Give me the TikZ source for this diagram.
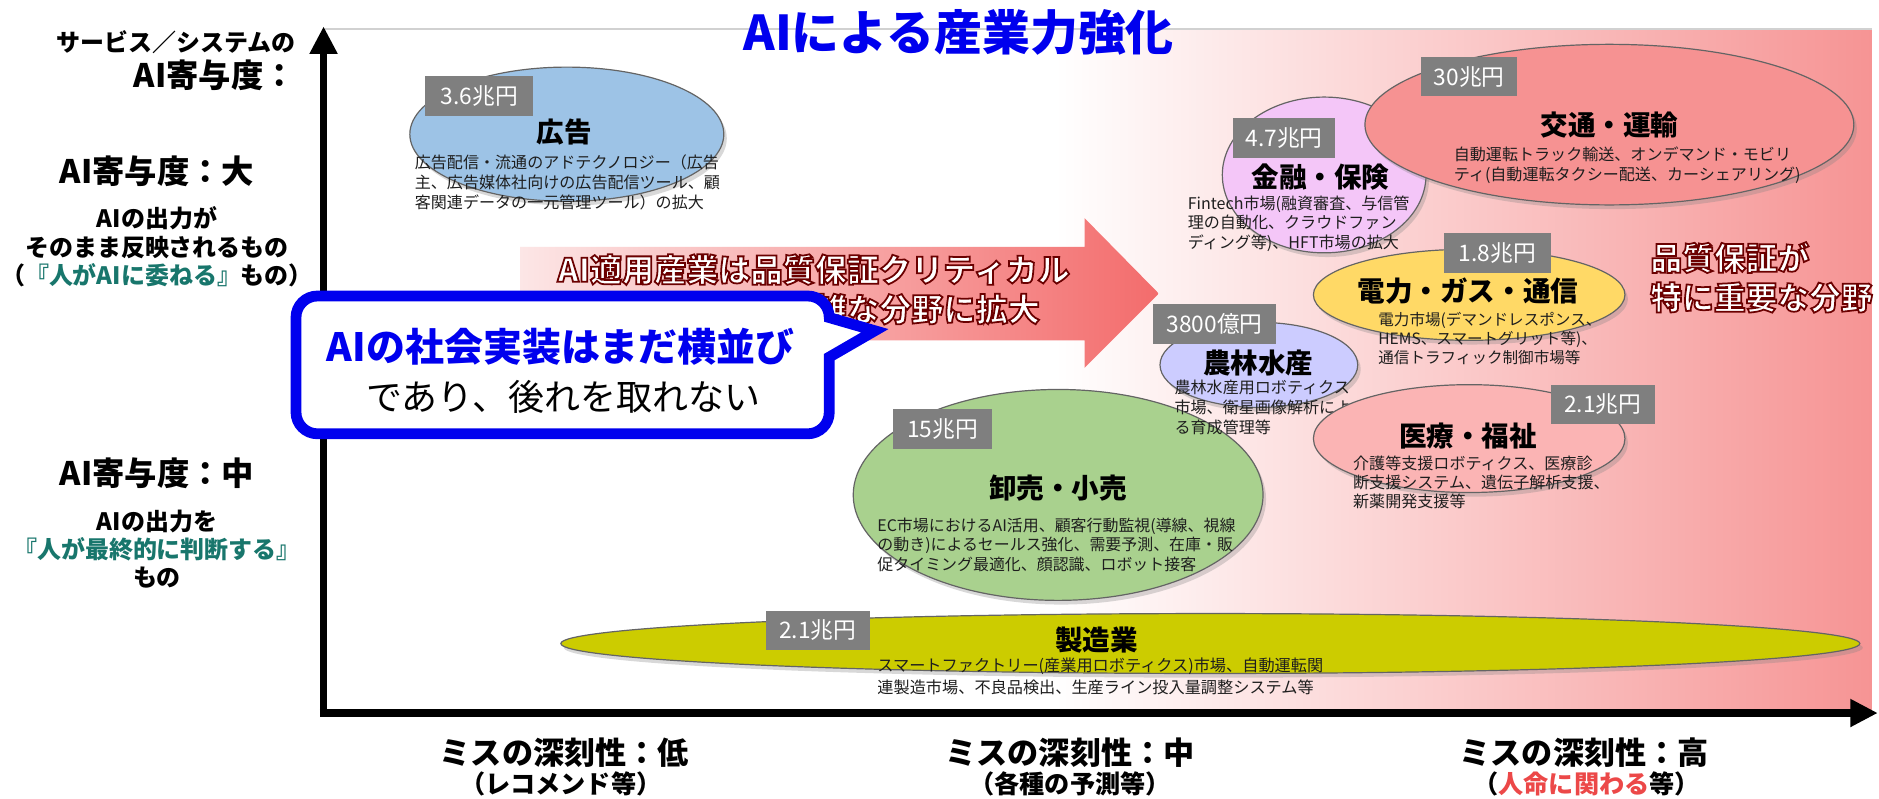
\documentclass[tikz,border=0pt]{standalone}
\usepackage{fontspec}
\setmainfont{Noto Sans CJK JP}
\newfontfamily\outlfont{Noto Sans CJK JP}[FakeBold=5.5]
\usetikzlibrary{shapes.geometric,arrows.meta,shadows}
\definecolor{blueT}{RGB}{0,0,238}
\definecolor{tealT}{RGB}{24,118,108}
\definecolor{redT}{RGB}{236,72,72}
\definecolor{valG}{RGB}{127,127,127}
\definecolor{descC}{RGB}{30,30,30}
\definecolor{edgeC}{RGB}{100,100,100}
\definecolor{bgPink}{RGB}{246,148,148}
\definecolor{arrL}{RGB}{252,230,230}
\definecolor{arrR}{RGB}{243,108,108}
\definecolor{cAd}{RGB}{157,195,230}
\definecolor{cWs}{RGB}{169,209,142}
\definecolor{cMf}{RGB}{204,204,0}
\definecolor{cAg}{RGB}{204,204,255}
\definecolor{cEn}{RGB}{255,217,102}
\definecolor{cFi}{RGB}{244,198,248}
\definecolor{cTr}{RGB}{246,146,146}
\definecolor{cMd}{RGB}{251,180,180}
\newcommand\fsz[2]{\fontsize{#1}{#2}\selectfont}
\newcommand\outl[1]{{\color{white}\special{pdf:literal direct 0.42 0 0 RG}\outlfont\bfseries #1}}
\tikzset{
  ell/.style={ellipse, draw=edgeC, line width=1pt, inner sep=0pt,
    drop shadow={opacity=0.3, shadow xshift=2.5pt, shadow yshift=-3.5pt}},
  val/.style={fill=valG, text=white, font=\fsz{19}{19}, inner sep=0pt, minimum height=33pt},
  ttl/.style={font=\fsz{23}{26}\bfseries, text=black, inner sep=0pt},
  desc/.style={text=descC, align=left, inner sep=0pt, anchor=north west},
  lbl/.style={inner sep=0pt, align=center},
  axis/.style={line width=6.5pt, -{Triangle[width=22pt,length=23pt]}},
  callout/.style={line width=9pt, draw=blueT, fill=white, line join=miter}
}
\begin{document}
\begin{tikzpicture}[x=1pt,y=-1pt]
\useasboundingbox (0,0) rectangle (1568,666);
\fill[white] (0,0) rectangle (1568,666);
% plot background
\shade[left color=white, right color=bgPink] (880,24) rectangle (1562,595);
\draw[black!18, line width=1.5pt] (270,24) -- (1562,24);
% axes
\coordinate (origin) at (270,595);
\coordinate (ytip) at (270,22);
\coordinate (xorig) at (267,595);
\coordinate (xtip) at (1567,595);
\draw[axis] (origin) -- (ytip);
\draw[axis] (xorig) -- (xtip);
% big arrow
\shade[left color=arrL, right color=arrR] (434,206) -- (905,206) -- (905,182) -- (967,245) -- (905,307) -- (905,284) -- (434,284) -- cycle;
\node[font=\fsz{26.8}{26.8}, inner sep=0pt] (ar1) at (679,225) {\outl{AI適用産業は品質保証クリティカル}};
\node[font=\fsz{26.8}{26.8}, inner sep=0pt, anchor=east] (ar2) at (868,258) {\outl{で複雑な分野に拡大}};
% advertising
\node[ell, fill=cAd, minimum width=262pt, minimum height=112pt] (ad) at (473,112) {};
\node[val, minimum width=90pt] (adv) at (400,80) {3.6兆円};
\node[ttl] (adt) at (471,110) {広告};
\node[desc, font=\fsz{13.4}{16.5}] (add) at (346,129) {広告配信・流通のアドテクノロジー（広告\\主、広告媒体社向けの広告配信ツール、顧\\客関連データの一元管理ツール）の拡大};
% wholesale
\node[ell, fill=cWs, minimum width=342pt, minimum height=176pt] (ws) at (883,413) {};
\node[val, minimum width=83pt] (wsv) at (786.5,358) {15兆円};
\node[ttl] (wst) at (883,407) {卸売・小売};
\node[desc, font=\fsz{13.3}{16.2}] (wsd) at (732,432) {EC市場におけるAI活用、顧客行動監視(導線、視線\\の動き)によるセールス強化、需要予測、在庫・販\\促タイミング最適化、顔認識、ロボット接客};
% manufacturing
\node[ell, fill=cMf, minimum width=1084pt, minimum height=50pt] (mf) at (1010,537) {};
\node[val, minimum width=87pt] (mfv) at (682.5,526) {2.1兆円};
\node[ttl] (mft) at (915,534) {製造業};
\node[desc, font=\fsz{13.5}{18}] (mfd) at (732,549) {スマートファクトリー(産業用ロボティクス)市場、自動運転関\\連製造市場、不良品検出、生産ライン投入量調整システム等};
% agriculture
\node[ell, fill=cAg, minimum width=165pt, minimum height=71pt] (ag) at (1050.5,304.5) {};
\node[val, minimum width=103pt] (agv) at (1013.5,270.5) {3800億円};
\node[ttl] (agt) at (1050,303) {農林水産};
\node[desc, font=\fsz{13.4}{16.5}] (agd) at (980,317) {農林水産用ロボティクス\\市場、衛星画像解析によ\\る育成管理等};
% medical
\node[ell, fill=cMd, minimum width=260pt, minimum height=90pt] (md) at (1226,366) {};
\node[val, minimum width=87pt] (mdv) at (1337.5,337.5) {2.1兆円};
\node[ttl] (mdt) at (1225,364) {医療・福祉};
\node[desc, font=\fsz{13.4}{15.8}] (mdd) at (1129,380) {介護等支援ロボティクス、医療診\\断支援システム、遺伝子解析支援、\\新薬開発支援等};
% finance
\node[ell, fill=cFi, minimum width=170pt, minimum height=130pt] (fi) at (1105,146) {};
\node[val, minimum width=85pt] (fiv) at (1071.5,115) {4.7兆円};
\node[ttl] (fit) at (1102,148) {金融・保険};
\node[desc, font=\fsz{13.4}{16.5}] (fid) at (991,163) {Fintech市場(融資審査、与信管\\理の自動化、クラウドファン\\ディング等)、HFT市場の拡大};
% energy
\node[ell, fill=cEn, minimum width=260pt, minimum height=76pt] (en) at (1226,246) {};
\node[val, minimum width=89pt] (env) at (1249.5,211) {1.8兆円};
\node[ttl] (ent) at (1225,243) {電力・ガス・通信};
\node[desc, font=\fsz{13}{16}] (end) at (1150,260) {電力市場(デマンドレスポンス、\\HEMS、スマートグリット等)、\\通信トラフィック制御市場等};
% transport
\node[ell, fill=cTr, minimum width=408pt, minimum height=134pt] (tr) at (1343,104) {};
\node[val, minimum width=80pt] (trv) at (1226,64) {30兆円};
\node[ttl] (trt) at (1343,104) {交通・運輸};
\node[desc, font=\fsz{13.4}{17}] (trd) at (1213,122) {自動運転トラック輸送、オンデマンド・モビリ\\ティ(自動運転タクシー配送、カーシェアリング)};
% quality note
\node[anchor=west, align=left, inner sep=0pt, font=\fsz{26.5}{33}] (qa) at (1377,231.5) {\outl{品質保証が}\\\outl{特に重要な分野}};
% callout
\draw[callout] (265,247) -- (674,247) .. controls (684,247) and (692,255) .. (692,265)
  -- (730,276) -- (692,298) -- (692,344) .. controls (692,354) and (684,362) .. (674,362)
  -- (265,362) .. controls (255,362) and (247,354) .. (247,344)
  -- (247,265) .. controls (247,255) and (255,247) .. (265,247) -- cycle;
\node[font=\fsz{32.5}{32.5}\bfseries, text=blueT, inner sep=0pt] (co1) at (468,289) {AIの社会実装はまだ横並び};
\node[font=\fsz{30}{30}, inner sep=0pt] (co2) at (470,331) {であり、後れを取れない};
% title
\node[font=\fsz{40}{40}\bfseries, text=blueT, inner sep=0pt] (title) at (800,27) {AIによる産業力強化};
% y-axis labels
\node[anchor=east, inner sep=0pt, font=\fsz{20}{20}\bfseries] (yl0) at (247,35) {サービス／システムの};
\node[anchor=east, inner sep=0pt, font=\fsz{27}{27}\bfseries] (yl1) at (247,63) {AI寄与度：};
\node[lbl, font=\fsz{27}{27}\bfseries] (yl2) at (131,143) {AI寄与度：大};
\node[lbl, font=\fsz{20}{24}\bfseries] (yl3) at (131,206) {AIの出力が\\そのまま反映されるもの\\（\textcolor{tealT}{『人がAIに委ねる』}もの）};
\node[lbl, font=\fsz{27}{27}\bfseries] (yl4) at (131,395) {AI寄与度：中};
\node[lbl, font=\fsz{20}{23.5}\bfseries] (yl5) at (131,458) {AIの出力を\\\textcolor{tealT}{『人が最終的に判断する』}\\もの};
% x-axis labels
\node[lbl, font=\fsz{26}{26}\bfseries] (xl1) at (471,628) {ミスの深刻性：低};
\node[lbl, font=\fsz{21}{21}\bfseries] (xl1b) at (468,654) {（レコメンド等）};
\node[lbl, font=\fsz{26}{26}\bfseries] (xl2) at (893,628) {ミスの深刻性：中};
\node[lbl, font=\fsz{21}{21}\bfseries] (xl2b) at (893,654) {（各種の予測等）};
\node[lbl, font=\fsz{26}{26}\bfseries] (xl3) at (1322,628) {ミスの深刻性：高};
\node[lbl, font=\fsz{21}{21}\bfseries] (xl3b) at (1324,654) {（\textcolor{redT}{人命に関わる}等）};
\end{tikzpicture}
\end{document}
